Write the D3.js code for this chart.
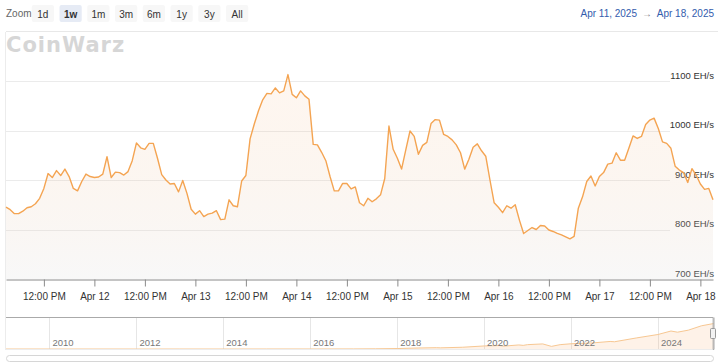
<!DOCTYPE html>
<html><head><meta charset="utf-8">
<script src="https://cdn.jsdelivr.net/npm/d3@7"></script>
<style>body{margin:0;background:#fff;} svg{display:block;font-family:"Liberation Sans",Arial,sans-serif;}</style>
</head><body><svg id="c" width="718" height="362"></svg>
<script>
// ---- data ----
const startTime = "2025-04-11T03:00:00Z"; // first hourly sample
const hashrate = [
 845,840,832,832,837,844,846,852,863,883,913,905,919,909,922,907,883,878,897,912,907,905,906,912,
 947,905,916,915,910,917,939,975,965,962,974,974,944,911,900,892,893,876,899,873,841,831,838,826,
 831,833,838,820,821,860,848,846,898,909,983,1013,1040,1062,1075,1074,1086,1076,1080,1113,1073,1066,1080,1070,
 1063,972,971,956,939,907,878,878,893,893,882,886,854,848,863,856,862,870,903,1009,962,944,922,961,
 999,988,952,970,976,1014,1022,1021,992,988,981,971,955,922,942,966,973,959,948,900,854,845,834,848,
 843,850,819,792,798,804,800,808,807,799,796,792,789,785,781,786,843,866,897,908,888,907,915,932,
 934,955,940,940,964,989,984,988,1012,1021,1025,1004,977,974,964,928,920,915,895,923,910,892,881,883,
 860
];
const yTicks = [700, 800, 900, 1000, 1100];
const zoomButtons = ["1d", "1w", "1m", "3m", "6m", "1y", "3y", "All"];
const selectedButton = "1w";
const rangeFrom = "Apr 11, 2025";
const rangeTo = "Apr 18, 2025";
const navYears  = [2009.0,2010.0,2011.0,2012.0,2013.0,2014.0,2015.0,2016.0,2017.0,2017.5,2018.0,2018.5,2018.9,2019.0,2019.5,2020.0,2020.35,2020.45,2020.8,2020.9,2021.0,2021.35,2021.55,2021.75,2022.0,2022.5,2022.9,2023.0,2023.5,2024.0,2024.3,2024.45,2024.7,2025.0,2025.29];
const navValues = [0,0,0,0,0,0.01,0.3,0.8,2.5,6,16,35,45,40,60,105,120,100,140,125,150,175,90,150,180,210,260,250,380,500,620,580,650,800,880];
const navYearTicks = [2010, 2012, 2014, 2016, 2018, 2020, 2022, 2024];

// ---- setup ----
const svg = d3.select("#c");
const W = 718;
const t0 = new Date(startTime);
const times = hashrate.map((v, i) => new Date(t0.getTime() + i * 3600e3));
const data = hashrate.map((v, i) => ({t: times[i], v}));

const x = d3.scaleUtc().domain([times[0], times[times.length - 1]]).range([6, 713]);
const y = d3.scaleLinear().domain([700, 1100]).range([279, 81]);

// ---- top toolbar ----
svg.append("text").attr("x", 6).attr("y", 17).attr("font-size", 10).attr("fill", "#666").text("Zoom");
const bx = d3.scaleBand().domain(zoomButtons).range([29, 251]).paddingInner(0.2).paddingOuter(0.1);
const btn = svg.selectAll("g.btn").data(zoomButtons).join("g").attr("class", "btn")
  .attr("transform", d => `translate(${bx(d)},5)`);
btn.append("rect").attr("width", bx.bandwidth()).attr("height", 17).attr("rx", 2)
  .attr("fill", d => d === selectedButton ? "#e6ebf5" : "#f7f7f7");
btn.append("text").attr("x", bx.bandwidth() / 2).attr("y", 12.5).attr("text-anchor", "middle")
  .attr("font-size", 10).attr("font-weight", d => d === selectedButton ? "bold" : "normal")
  .attr("fill", "#333").text(d => d);

svg.append("text").attr("x", 714).attr("y", 17).attr("text-anchor", "end").attr("font-size", 10)
  .attr("fill", "#335cad").text(rangeTo);
svg.append("text").attr("x", 652).attr("y", 17).attr("text-anchor", "end").attr("font-size", 10)
  .attr("fill", "#888").text("→");
svg.append("text").attr("x", 637).attr("y", 17).attr("text-anchor", "end").attr("font-size", 10)
  .attr("fill", "#335cad").text(rangeFrom);
svg.append("line").attr("x1", 6).attr("x2", W).attr("y1", 31.5).attr("y2", 31.5).attr("stroke", "#e8e8e8");
svg.append("line").attr("x1", 5.5).attr("x2", 5.5).attr("y1", 32).attr("y2", 350).attr("stroke", "#ececec");

// watermark logo
svg.append("text").attr("x", 6).attr("y", 52).attr("font-size", 21).attr("font-weight", 900)
  .attr("font-family", "'DejaVu Sans', sans-serif").attr("letter-spacing", 1)
  .attr("fill", "#d6d6d6").text("CoinWarz");

// ---- gridlines & y labels ----
svg.append("g").selectAll("line").data(yTicks.filter(d => d > 700)).join("line")
  .attr("x1", 6).attr("x2", 670).attr("y1", d => Math.round(y(d)) + 0.5).attr("y2", d => Math.round(y(d)) + 0.5)
  .attr("stroke", "#ebebeb");
svg.append("g").selectAll("text").data(yTicks).join("text")
  .attr("x", 714).attr("y", d => y(d) - 2.5).attr("text-anchor", "end")
  .attr("font-size", 9.5).attr("fill", "#333").text(d => d + " EH/s");

// ---- area & line ----
const defs = svg.append("defs");
const grad = defs.append("linearGradient").attr("id", "g1").attr("x1", 0).attr("x2", 0).attr("y1", 0).attr("y2", 1);
grad.append("stop").attr("offset", "0%").attr("stop-color", "#f7a35c").attr("stop-opacity", 0.09);
grad.append("stop").attr("offset", "100%").attr("stop-color", "#dcdcdc").attr("stop-opacity", 0.2);

svg.append("path").datum(data).attr("fill", "url(#g1)")
  .attr("d", d3.area().x(d => x(d.t)).y0(y(700)).y1(d => y(d.v)));
svg.append("path").datum(data).attr("fill", "none").attr("stroke", "#f4a452").attr("stroke-width", 1.4)
  .attr("stroke-linejoin", "round")
  .attr("d", d3.line().x(d => x(d.t)).y(d => y(d.v)));

// ---- x axis ----
const fmt = d => d.getUTCHours() === 12 ? "12:00 PM" : d3.utcFormat("%b %-d")(d);
const xAxis = d3.axisBottom(x).ticks(d3.utcHour.every(12)).tickFormat(fmt).tickSize(7).tickSizeOuter(0).tickPadding(6);
const gx = svg.append("g").attr("transform", `translate(0,${Math.round(y(700)) + 0.5})`).call(xAxis);
gx.select(".domain").attr("stroke", "#8a8a8a");
gx.selectAll(".tick line").attr("stroke", "#8a8a8a");
gx.selectAll(".tick text").attr("font-size", 10).attr("fill", "#333").attr("font-family", "'Liberation Sans',Arial,sans-serif");

// ---- navigator ----
const nx = d3.scaleLinear().domain([navYears[0], navYears[navYears.length - 1]]).range([6, 714]);
const ny = d3.scaleLinear().domain([0, 1000]).range([349, 320]);
const nav = svg.append("g");
nav.selectAll("line.yr").data(navYearTicks).join("line").attr("class", "yr")
  .attr("x1", d => Math.round(nx(d)) + 0.5).attr("x2", d => Math.round(nx(d)) + 0.5)
  .attr("y1", 318).attr("y2", 349).attr("stroke", "#e6e6e6");
const navData = navYears.map((yr, i) => ({yr, v: navValues[i]}));
nav.append("path").datum(navData).attr("fill", "#f7a35c").attr("fill-opacity", 0.14)
  .attr("d", d3.area().x(d => nx(d.yr)).y0(ny(0)).y1(d => ny(d.v)));
nav.append("path").datum(navData).attr("fill", "none").attr("stroke", "#f7c792").attr("stroke-width", 1)
  .attr("d", d3.line().x(d => nx(d.yr)).y(d => ny(d.v)));
nav.selectAll("text.yr").data(navYearTicks).join("text").attr("class", "yr")
  .attr("x", d => nx(d) + 3).attr("y", 346).attr("font-size", 9.5).attr("fill", "#777").text(d => d);
nav.append("line").attr("x1", 6).attr("x2", 714).attr("y1", 349.5).attr("y2", 349.5).attr("stroke", "#ececec");
nav.append("path").attr("fill", "none").attr("stroke", "#aaa")
  .attr("d", `M6,317.5H${nx(2025.27)}V349.5H714V317.5`);
nav.append("rect").attr("x", 710.5).attr("y", 328.5).attr("width", 5).attr("height", 10).attr("rx", 1)
  .attr("fill", "#f2f2f2").attr("stroke", "#999");
nav.append("rect").attr("x", 6.5).attr("y", 355.5).attr("width", 707).attr("height", 6).attr("rx", 3)
  .attr("fill", "#fff").attr("stroke", "#d6d6d6");
</script></body></html>
